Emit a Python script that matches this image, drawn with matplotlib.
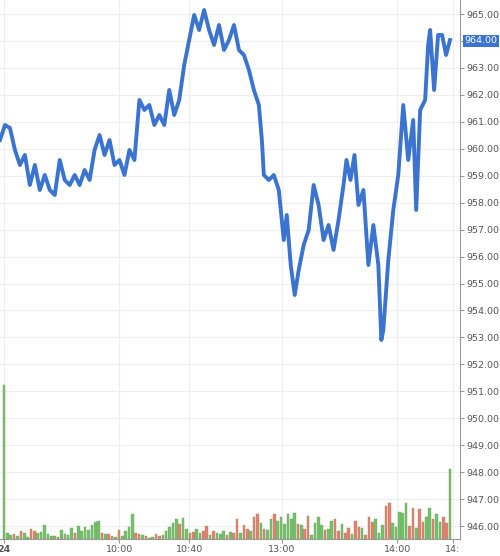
import matplotlib.pyplot as plt
import numpy as np

# price trace, x in pixel-like time units (0..452), value in price
t = [0, 5, 10, 15, 20, 25, 30, 35, 40, 45, 50, 55, 60, 65, 70, 75, 80, 85, 90, 95,
     100, 105, 110, 115, 120, 125, 130, 135, 140, 145, 150, 155, 160, 165, 170, 175,
     180, 185, 190, 195, 200, 205, 210, 215, 220, 225, 230, 235, 240, 245, 250, 255,
     260, 263, 265, 270, 275, 280, 285, 288, 292, 296, 300, 305, 310, 315, 320, 325,
     330, 335, 340, 345, 348, 352, 356, 360, 365, 370, 375, 380, 383, 385, 390, 395,
     400, 405, 410, 415, 418, 422, 427, 430, 432, 436, 440, 444, 448, 452]
py = [140, 125, 128, 150, 165, 155, 185, 165, 190, 175, 190, 195, 160, 180, 185, 175,
      185, 170, 180, 150, 135, 155, 140, 165, 160, 175, 150, 160, 100, 110, 105, 125,
      115, 125, 90, 115, 100, 65, 40, 15, 30, 10, 30, 45, 25, 50, 40, 25, 50, 55, 70,
      90, 105, 140, 175, 180, 175, 190, 240, 215, 265, 295, 270, 245, 230, 185, 205,
      240, 225, 250, 220, 185, 160, 180, 155, 205, 190, 265, 225, 265, 340, 330, 260,
      210, 175, 105, 160, 120, 210, 110, 100, 45, 30, 90, 35, 35, 55, 40]
price = [965 - (y - 14) / 26.95 for y in py]

# volume bars (approx heights) with up/down flags
vol = [154, 6, 4, 5, 3, 8, 6, 2, 10, 8, 6, 7, 14, 5, 3, 3, 2, 9, 5, 4, 11, 6, 13, 8, 12,
       9, 14, 17, 18, 6, 5, 5, 3, 2, 9, 3, 8, 12, 25, 6, 5, 4, 3, 1, 2, 5, 3, 4, 8, 12,
       16, 20, 15, 21, 10, 6, 7, 10, 6, 8, 13, 4, 8, 6, 5, 8, 4, 7, 6, 20, 6, 14, 10,
       8, 22, 25, 16, 10, 9, 20, 25, 18, 22, 15, 25, 20, 26, 15, 14, 10, 23, 4, 16, 22,
       14, 9, 10, 18, 20, 8, 15, 6, 11, 5, 18, 12, 11, 4, 22, 17, 20, 6, 14, 33, 36,
       16, 12, 27, 26, 36, 13, 31, 11, 30, 17, 22, 31, 20, 25, 17, 22, 16, 70]
up = [1, 1, 1, 0, 1, 0, 1, 1, 0, 0, 1, 1, 1, 1, 1, 1, 0, 1, 1, 1, 1, 0, 1, 1, 1, 1, 1,
      1, 1, 0, 1, 0, 0, 1, 0, 1, 1, 1, 1, 0, 0, 1, 0, 1, 1, 0, 0, 1, 1, 1, 1, 1, 0, 1,
      1, 0, 0, 1, 1, 0, 0, 1, 0, 1, 1, 1, 0, 1, 0, 0, 1, 0, 0, 1, 0, 0, 1, 0, 1, 1, 0,
      1, 1, 1, 1, 1, 1, 0, 1, 0, 0, 1, 1, 1, 1, 0, 1, 1, 0, 0, 1, 0, 0, 1, 0, 0, 1, 0,
      0, 0, 1, 1, 1, 0, 0, 1, 1, 1, 1, 1, 0, 0, 1, 0, 0, 1, 1, 0, 1, 1, 0, 0, 1]

xtick_pos = [4, 120, 190, 283, 399, 455]
xtick_lab = ["24", "10:00", "10:40", "13:00", "14:00", "14:"]

fig = plt.figure(figsize=(5, 5.56), dpi=100)
ax = fig.add_axes([0, 17 / 556, 0.92, 539 / 556])
ax.set_xlim(0, 462)
ylo = 965 - (539 - 14) / 26.95
yhi = 965 + 14 / 26.95
ax.set_ylim(ylo, yhi)

vx = np.linspace(4, 452, len(vol))
vax = ax.twinx()
vax.set_ylim(0, 539)
vax.axis("off")
cols = ["#6cc46c" if u else "#f07a72" for u in up]
vax.bar(vx, vol, width=2.6, color=cols, edgecolor="#8a9a60", linewidth=0.3)

ax.plot(t, price, color="#3a74d0", lw=2.8, zorder=5)

ax.yaxis.tick_right()
ticks = np.arange(946, 966)
ax.set_yticks(ticks)
ax.set_yticklabels(["" if v == 964 else "%.2f" % v for v in ticks],
                   fontsize=6.8, color="#555555")
ax.set_xticks(xtick_pos)
ax.set_xticklabels(xtick_lab, fontsize=6.8, color="#555555")
ax.get_xticklabels()[0].set_fontweight("bold")
ax.tick_params(length=3, color="#999999", pad=1.5)
ax.grid(color="#eeeeee", lw=0.8)
for s in ["top", "left"]:
    ax.spines[s].set_visible(False)
ax.spines["right"].set_color("#999999")
ax.spines["bottom"].set_color("#999999")
ax.text(1.01, (964 - ylo) / (yhi - ylo), "964.00", transform=ax.transAxes,
        fontsize=6.8, color="white", va="center", ha="left",
        bbox=dict(boxstyle="square,pad=0.2", fc="#3a74d0", ec="none"))

fig.savefig("out.png", dpi=100)
